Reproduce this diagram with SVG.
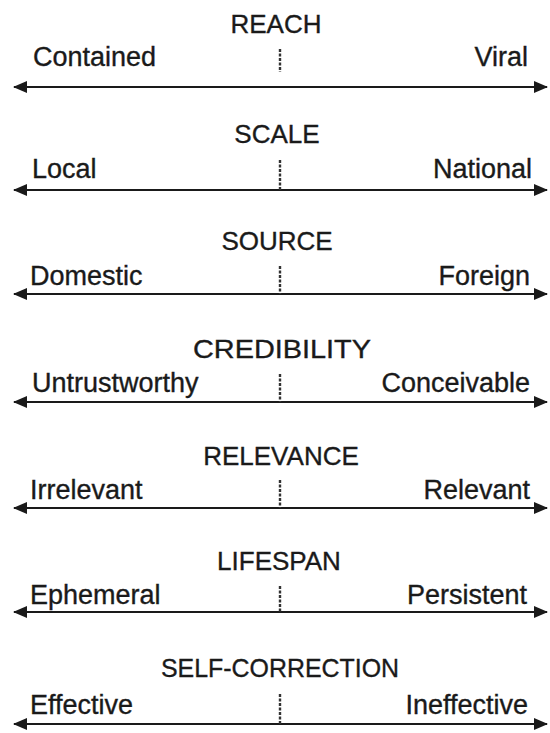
<svg xmlns="http://www.w3.org/2000/svg" width="550" height="733" viewBox="0 0 550 733">
<style>
text{font-family:"Liberation Sans",Arial,sans-serif;fill:#1a1a1a;stroke:#1a1a1a;stroke-width:0.35}
.t{font-size:26px;text-anchor:middle}
.l{font-size:27px}
.r{font-size:27px;text-anchor:end}
.axis{stroke:#1a1a1a;stroke-width:2;fill:none}
.tick{stroke:#333;stroke-width:2.4;stroke-dasharray:3 1.5;fill:none}
</style>
<defs>
<marker id="ah" viewBox="0 0 14 12" refX="13" refY="6" markerWidth="14" markerHeight="12" markerUnits="userSpaceOnUse" orient="auto-start-reverse">
<path d="M0,0 L14,6 L0,12 Z" fill="#1a1a1a"/>
</marker>
</defs>
<g id="reach">
<text class="t" x="276" y="33">REACH</text>
<text class="l" x="33" y="66">Contained</text>
<text class="r" x="528" y="66">Viral</text>
</g>
<g id="scale">
<text class="t" x="277" y="143">SCALE</text>
<text class="l" x="32" y="178">Local</text>
<text class="r" x="532" y="178">National</text>
</g>
<g id="source">
<text class="t" x="277" y="250">SOURCE</text>
<text class="l" x="30" y="285">Domestic</text>
<text class="r" x="530" y="285">Foreign</text>
</g>
<g id="credibility">
<text class="t" x="282" y="358" textLength="178" lengthAdjust="spacingAndGlyphs">CREDIBILITY</text>
<text class="l" x="32" y="392">Untrustworthy</text>
<text class="r" x="530" y="392">Conceivable</text>
</g>
<g id="relevance">
<text class="t" x="281" y="465">RELEVANCE</text>
<text class="l" x="30" y="499">Irrelevant</text>
<text class="r" x="530" y="499">Relevant</text>
</g>
<g id="lifespan">
<text class="t" x="279" y="570">LIFESPAN</text>
<text class="l" x="30" y="604">Ephemeral</text>
<text class="r" x="527" y="604">Persistent</text>
</g>
<g id="self-correction">
<text class="t" x="280" y="677" textLength="238" lengthAdjust="spacingAndGlyphs">SELF-CORRECTION</text>
<text class="l" x="30" y="714">Effective</text>
<text class="r" x="528" y="714">Ineffective</text>
</g>
<g id="connectors">
<line class="axis" x1="14" y1="87" x2="547" y2="87" marker-start="url(#ah)" marker-end="url(#ah)"/>
<line class="tick" x1="280" y1="49" x2="280" y2="72"/>
<line class="axis" x1="14" y1="190" x2="547" y2="190" marker-start="url(#ah)" marker-end="url(#ah)"/>
<line class="tick" x1="280" y1="160" x2="280" y2="190"/>
<line class="axis" x1="14" y1="294" x2="547" y2="294" marker-start="url(#ah)" marker-end="url(#ah)"/>
<line class="tick" x1="280" y1="266" x2="280" y2="294"/>
<line class="axis" x1="14" y1="402" x2="547" y2="402" marker-start="url(#ah)" marker-end="url(#ah)"/>
<line class="tick" x1="280" y1="374" x2="280" y2="402"/>
<line class="axis" x1="14" y1="508" x2="547" y2="508" marker-start="url(#ah)" marker-end="url(#ah)"/>
<line class="tick" x1="280" y1="480" x2="280" y2="508"/>
<line class="axis" x1="14" y1="612" x2="547" y2="612" marker-start="url(#ah)" marker-end="url(#ah)"/>
<line class="tick" x1="280" y1="586" x2="280" y2="612"/>
<line class="axis" x1="14" y1="724" x2="547" y2="724" marker-start="url(#ah)" marker-end="url(#ah)"/>
<line class="tick" x1="280" y1="694" x2="280" y2="724"/>
</g>
</svg>
